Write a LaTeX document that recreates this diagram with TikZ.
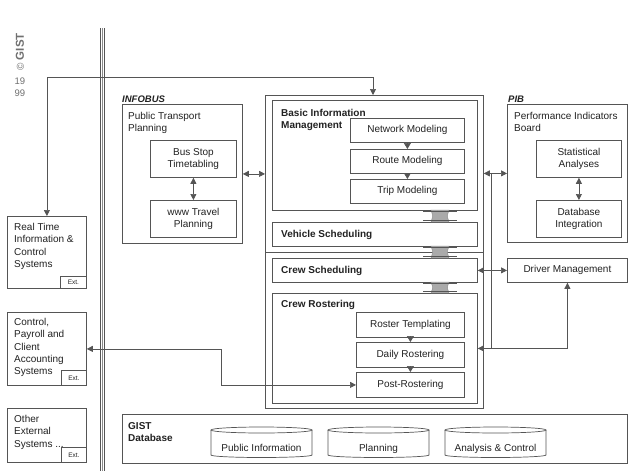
\documentclass[tikz,border=0pt]{standalone}
\usepackage{fontspec}
\setmainfont{Liberation Sans}
\usetikzlibrary{arrows.meta}
\definecolor{lc}{HTML}{555555}
\definecolor{tc}{HTML}{222222}
\definecolor{pg}{HTML}{AAAAAA}
\definecolor{cg}{HTML}{8A8A8A}
\definecolor{cpg}{HTML}{707070}
\tikzset{
 box/.style={draw=lc,line width=0.8pt,inner sep=0pt,anchor=north west,text=tc,align=center,font=\fontsize{10}{12}\selectfont},
 lbl/.style={inner sep=0pt,anchor=north west,align=left,text=tc,font=\fontsize{10}{12.3}\selectfont},
 sl/.style={inner sep=0pt,anchor=base west,text=tc,font=\fontsize{10}{12}\selectfont},
 bsl/.style={sl,font=\bfseries\fontsize{10}{12}\selectfont},
 blbl/.style={lbl,font=\bfseries\fontsize{10}{12.5}\selectfont},
 ttl/.style={sl,font=\bfseries\itshape\fontsize{9.5}{12}\selectfont},
 extbox/.style={box,font=\fontsize{6.5}{7}\selectfont},
 line/.style={draw=lc,line width=0.8pt},
 conn/.style={draw=lc,line width=0.7pt},
 dbl/.style={conn,{Triangle[length=6pt,width=6pt]}-{Triangle[length=6pt,width=6pt]}},
 one/.style={conn,-{Triangle[length=6pt,width=7pt]}},
}
\newcommand{\Bx}[7][]{\node[box,minimum width={#5-#3},minimum height={#6-#4},#1] (#2) at (#3,#4) {#7};}
\newcommand{\Pillar}[3]{%
 \filldraw[fill=pg,draw=cg,line width=0.4pt] ({#1-9},#2) .. controls ({#1-7},{(#2+#3)/2}) .. ({#1-9},#3) -- ({#1+9},#3) .. controls ({#1+7},{(#2+#3)/2}) .. ({#1+9},#2) -- cycle;
 \draw[lc,line width=0.5pt] ({#1-17},{#2+1.5}) -- ({#1+17},{#2+1.5}) ({#1-17},{#3-1.5}) -- ({#1+17},{#3-1.5});}
\newcommand{\Cyl}[3]{%
 \draw[line,line width=0.7pt] ({(#1+#2)/2},430) ellipse[x radius={(#2-#1)/2*1pt},y radius=3pt];
 \draw[line,line width=0.7pt] (#1,430) -- (#1,455) arc[start angle=180,end angle=360,x radius={(#2-#1)/2*1pt},y radius=2.5pt] -- (#2,430);}
\begin{document}
\begin{tikzpicture}[x=1pt,y=-1pt]
\useasboundingbox[fill=white] (0,0) rectangle (639,471);
% copyright
\node[rotate=90,inner sep=0pt,text=cpg,font=\bfseries\fontsize{11.5}{11.5}\selectfont] (copy) at (20,52) {{\mdseries\fontsize{10}{10}\selectfont ©} GIST};
\node[inner sep=0pt,text=cpg,font=\fontsize{9.5}{9.5}\selectfont] (y19) at (20,81) {19};
\node[inner sep=0pt,text=cpg,font=\fontsize{9.5}{9.5}\selectfont] (y99) at (20,93) {99};
% separator
\draw[lc,line width=0.8pt] (100.8,28) -- (100.8,471) (104.6,28) -- (104.6,471);
\draw[cg,line width=0.5pt] (102.7,28) -- (102.7,471);
% external systems
\Bx{rt}{7}{216}{86}{288}{}
\node[lbl] (rtt) at (14,223) {Real Time\\Information \&\\Control\\Systems};
\Bx[extbox]{rtx}{60}{276}{86}{288}{Ext.}
\Bx{cp}{7}{312}{86}{385}{}
\node[lbl] (cpt) at (14,318) {Control,\\Payroll and\\Client\\Accounting\\Systems};
\Bx[extbox]{cpx}{61}{370}{86}{385}{Ext.}
\Bx{ot}{7}{408}{86}{462}{}
\node[lbl] (ott) at (14,415) {Other\\External\\Systems ...};
\Bx[extbox]{otx}{61}{447}{86}{462}{Ext.}
% INFOBUS
\node[ttl] (infl) at (122,102) {INFOBUS};
\Bx{inf}{122}{104}{242}{243}{}
\node[lbl] (inft) at (128,112) {Public Transport\\Planning};
\Bx{bus}{150}{140}{236}{177}{Bus Stop\\Timetabling}
\Bx{www}{150}{200}{236}{237}{www Travel\\Planning}
% PIB
\node[ttl] (pibl) at (508,102) {PIB};
\Bx{pib}{507}{104}{627}{242}{}
\node[lbl] (pibt) at (514,112) {Performance Indicators\\Board};
\Bx{stat}{536}{140}{621}{177}{Statistical\\Analyses}
\Bx{dbi}{536}{200}{621}{237}{Database\\Integration}
\Bx{drv}{507}{258}{627}{282}{Driver Management}
% main block
\Bx{main}{265}{95}{483}{408}{}
\coordinate (dv) at (0,252);
\draw[line] (main.west |- dv) -- (main.east |- dv);
\Bx{bim}{272}{100}{477}{210}{}
\node[blbl] (bimt) at (281,109) {Basic Information\\Management};
\Bx{net}{350}{118}{464}{142}{Network Modeling}
\Bx{route}{350}{149}{464}{173}{Route Modeling}
\Bx{trip}{350}{179}{464}{203}{Trip Modeling}
\Bx{veh}{272}{222}{477}{246}{}
\node[bsl] (veht) at (281,237.5) {Vehicle Scheduling};
\Bx{cs}{272}{258}{477}{282}{}
\node[bsl] (cst) at (281,273.5) {Crew Scheduling};
\Bx{cr}{272}{293}{477}{403}{}
\node[bsl] (crt) at (281,307.5) {Crew Rostering};
\Bx{rtp}{356}{312}{464}{337}{Roster Templating}
\Bx{daily}{356}{342}{464}{367}{Daily Rostering}
\Bx{post}{356}{372}{464}{397}{Post-Rostering}
\Pillar{440}{210}{222}
\Pillar{440}{246}{258}
\Pillar{440}{282}{293}
% database
\Bx{db}{122}{414}{627}{463}{}
\node[blbl] (dbt) at (128,422) {GIST\\Database};
\Cyl{211}{312}{}
\Cyl{328}{429}{}
\Cyl{445}{546}{}
\node[sl,anchor=base] (dpub) at (261.5,451) {Public Information};
\node[sl,anchor=base] (dpln) at (378.5,451) {Planning};
\node[sl,anchor=base] (dana) at (495.5,451) {Analysis \& Control};
% connectors
\draw[one] (net.south) -- (route.north);
\draw[one] (route.south) -- (trip.north);
\draw[one] (rtp.south) -- (daily.north);
\draw[one] (daily.south) -- (post.north);
\draw[dbl] (bus.south) -- (www.north);
\draw[dbl] (stat.south) -- (dbi.north);
\draw[dbl] (inf.east) -- (inf.east -| main.west);
\draw[dbl] (pib.west) -- (pib.west -| main.east);
\draw[dbl] (drv.west) -- (drv.west -| cs.east);
\coordinate (topy) at (0,77);
\coordinate (mtop) at (373,95);
\draw[dbl] (rt.north) -- (rt.north |- topy) -- (mtop |- topy) -- (mtop);
\coordinate (jx) at (221,0);
\draw[dbl] (cp.east) -- (cp.east -| jx) -- (post.west -| jx) -- (post.west);
\coordinate (va) at (491,173);
\coordinate (vb) at (491,348);
\draw[conn] (va) -- (vb);
\draw[dbl] (drv.south) |- (cr.east);
\end{tikzpicture}
\end{document}
